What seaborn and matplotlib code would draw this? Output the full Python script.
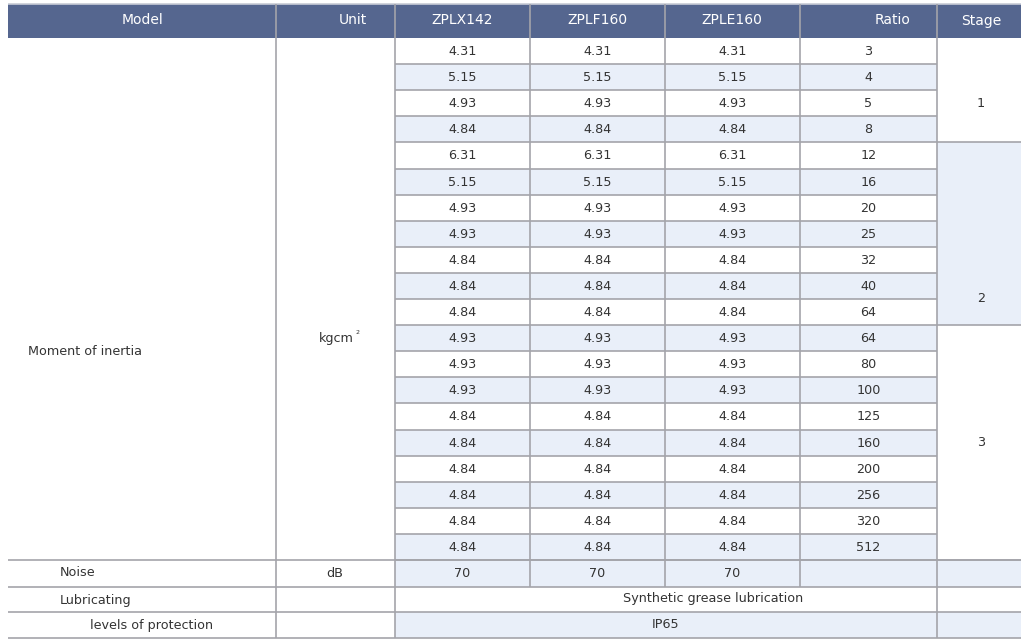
import matplotlib
matplotlib.use("Agg")
import matplotlib.pyplot as plt
from matplotlib.patches import Rectangle
import seaborn as sns

# ---------------- data ----------------
headers = ["Model", "Unit", "ZPLX142", "ZPLF160", "ZPLE160", "Ratio", "Stage"]
ratios = [3, 4, 5, 8, 12, 16, 20, 25, 32, 40, 64, 64, 80, 100, 125, 160, 200, 256, 320, 512]
zplx142 = [4.31, 5.15, 4.93, 4.84, 6.31, 5.15, 4.93, 4.93, 4.84, 4.84, 4.84,
           4.93, 4.93, 4.93, 4.84, 4.84, 4.84, 4.84, 4.84, 4.84]
zplf160 = [4.31, 5.15, 4.93, 4.84, 6.31, 5.15, 4.93, 4.93, 4.84, 4.84, 4.84,
           4.93, 4.93, 4.93, 4.84, 4.84, 4.84, 4.84, 4.84, 4.84]
zple160 = [4.31, 5.15, 4.93, 4.84, 6.31, 5.15, 4.93, 4.93, 4.84, 4.84, 4.84,
           4.93, 4.93, 4.93, 4.84, 4.84, 4.84, 4.84, 4.84, 4.84]
stage_labels = ["1", "2", "3"]
stage_counts = [4, 7, 9]
inertia_label = "Moment of inertia"
inertia_unit = "kgcm"
inertia_unit_sup = "2"
noise_label = "Noise"
noise_unit = "dB"
noise_values = [70, 70, 70]
lube_label = "Lubricating"
lube_value = "Synthetic grease lubrication"
prot_label = "levels of protection"
prot_value = "IP65"

# ---------------- style ----------------
sns.set_theme(style="white")
plt.rcParams["font.family"] = ["DejaVu Sans"]

HEAD = "#55668f"
LIGHT = "#e9eff9"
LINE = "#a4a4aa"
TXT = "#333333"
FS = 9.2

W, H = 1021, 639
fig = plt.figure(figsize=(W / 100, H / 100), dpi=100)
ax = fig.add_axes([0, 0, 1, 1])
ax.set_xlim(0, W)
ax.set_ylim(H, 0)
ax.axis("off")

# column borders (pixels)
xs = [8, 276, 395, 530, 665, 800, 937, 1021]
head_top, head_bot = 4, 38
nrows = len(ratios)
rh = (560 - head_bot) / nrows
def row_top(i):
    return head_bot + i * rh
extra_top = [560, 586.5, 612, 638]

def rect(x0, y0, x1, y1, color):
    ax.add_patch(Rectangle((x0, y0), x1 - x0, y1 - y0, facecolor=color,
                           edgecolor="none", zorder=1))

def hline(y, x0, x1, color=LINE):
    ax.plot([x0, x1], [y, y], color=color, lw=1.2, zorder=3, solid_capstyle="butt")

def vline(x, y0, y1):
    ax.plot([x, x], [y0, y1], color=LINE, lw=1.2, zorder=3, solid_capstyle="butt")

# header
rect(xs[0], head_top, W, head_bot, HEAD)
hline(head_top, xs[0], W, color="#c8ccd6")
head_x = [142, 353, 462, 597, 732, 893, 981]
for hx, h in zip(head_x, headers):
    ax.text(hx, 20.5, h, color="white", fontsize=FS + 0.8,
            ha="center", va="center", zorder=5)
for x in xs[1:-1]:
    vline(x, head_top, head_bot)

# data rows shading and values
cols = [zplx142, zplf160, zple160]
for i in range(nrows):
    y0, y1 = row_top(i), row_top(i + 1)
    if i % 2 == 1:
        rect(xs[2], y0, xs[6], y1, LIGHT)
    yc = (y0 + y1) / 2 + 0.5
    for j, col in enumerate(cols):
        ax.text((xs[2 + j] + xs[3 + j]) / 2, yc, f"{col[i]:.2f}", color=TXT,
                fontsize=FS, ha="center", va="center", zorder=5)
    ax.text((xs[5] + xs[6]) / 2, yc, str(ratios[i]), color=TXT,
            fontsize=FS, ha="center", va="center", zorder=5)
    hline(y1, xs[2], xs[6])

# stage column
stage_label_rows = [2.5, 10.0, 15.5]
start = 0
for k, (lab, cnt) in enumerate(zip(stage_labels, stage_counts)):
    y0, y1 = row_top(start), row_top(start + cnt)
    if k == 1:
        rect(xs[6], y0, W, y1, LIGHT)
    ax.text(981, row_top(stage_label_rows[k]), lab, color=TXT, fontsize=FS,
            ha="center", va="center", zorder=5)
    hline(y1, xs[6], W)
    start += cnt

# model / unit merged cell
ax.text(28, row_top(12), inertia_label, color=TXT, fontsize=FS,
        ha="left", va="center", zorder=5)
ax.text(354, row_top(11.5), inertia_unit, color=TXT, fontsize=FS,
        ha="right", va="center", zorder=5)
ax.text(355, row_top(11.5) - 6, inertia_unit_sup, color=TXT, fontsize=4.5,
        ha="left", va="center", zorder=5)

# noise row
y0, y1 = extra_top[0], extra_top[1]
rect(xs[2], y0, W, y1, LIGHT)
ax.text(60, (y0 + y1) / 2 - 1, noise_label, color=TXT, fontsize=FS, ha="left", va="center", zorder=5)
ax.text(335, (y0 + y1) / 2, noise_unit, color=TXT, fontsize=FS, ha="center", va="center", zorder=5)
for j, v in enumerate(noise_values):
    ax.text((xs[2 + j] + xs[3 + j]) / 2, (y0 + y1) / 2, str(v), color=TXT,
            fontsize=FS, ha="center", va="center", zorder=5)

# lubricating row
y0, y1 = extra_top[1], extra_top[2]
ax.text(60, (y0 + y1) / 2 + 1, lube_label, color=TXT, fontsize=FS, ha="left", va="center", zorder=5)
ax.text(713, (y0 + y1) / 2 - 1, lube_value, color=TXT, fontsize=FS, ha="center", va="center", zorder=5)

# protection row
y0, y1 = extra_top[2], extra_top[3]
rect(xs[2], y0, W, y1, LIGHT)
ax.text(90, (y0 + y1) / 2, prot_label, color=TXT, fontsize=FS, ha="left", va="center", zorder=5)
ax.text(666, (y0 + y1) / 2, prot_value, color=TXT, fontsize=FS, ha="center", va="center", zorder=5)

# full-width horizontal lines
for y in extra_top:
    hline(y, xs[0], W)

# vertical lines
for x in [xs[1], xs[2], xs[6]]:
    vline(x, head_bot, extra_top[3])
for x in [xs[3], xs[4], xs[5]]:
    vline(x, head_bot, extra_top[1])

fig.savefig("out.png", dpi=100)
